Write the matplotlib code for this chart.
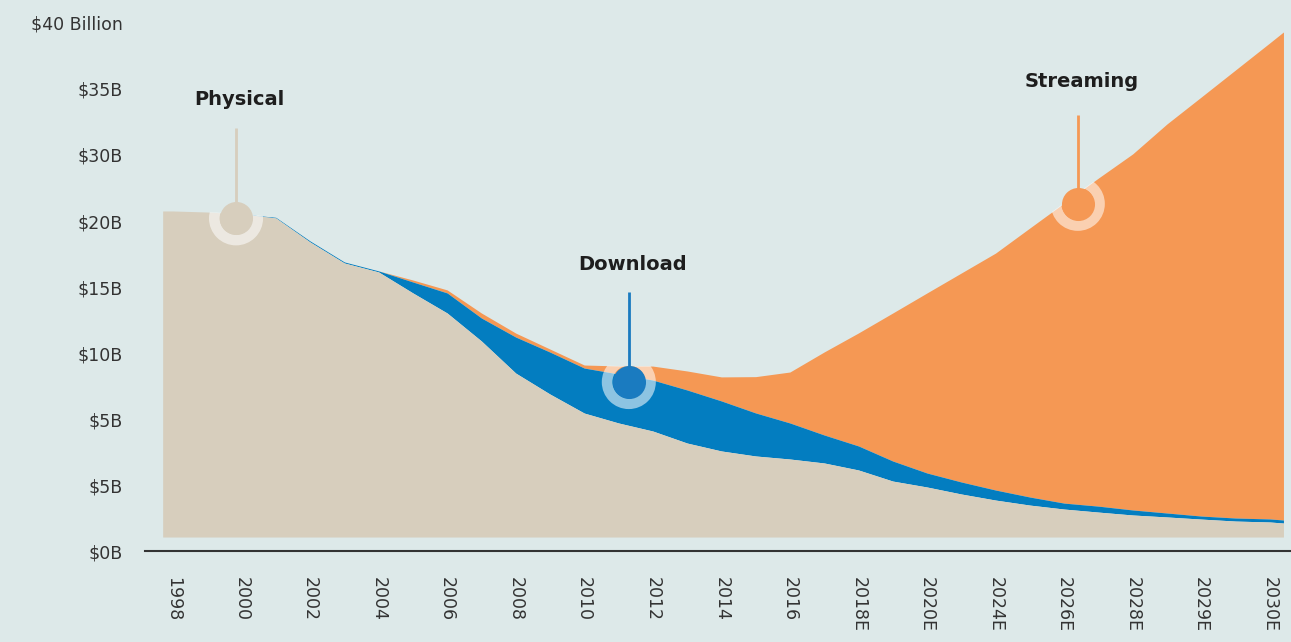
import numpy as np
import matplotlib.pyplot as plt

# x positions in tick units (0 = 1998 label, one unit per label)
xpos = [-0.15, 0, 0.5, 1, 1.5, 2, 2.5, 3, 3.5, 4, 4.5, 5, 5.5, 6, 6.5, 7, 7.5, 8,
        8.5, 9, 9.5, 10, 10.5, 11, 11.5, 12, 12.5, 13, 13.5, 14, 14.5, 15, 15.5, 16, 16.2]
physical = [25.76, 25.76, 25.68, 25.53, 25.23, 23.41, 21.82, 21.14, 19.55, 18.03, 15.91,
            13.48, 11.89, 10.45, 9.70, 9.09, 8.18, 7.58, 7.20, 6.97, 6.67, 6.14, 5.30,
            4.85, 4.32, 3.86, 3.48, 3.18, 2.95, 2.73, 2.58, 2.42, 2.27, 2.20, 2.12]
download = [0, 0, 0, 0, 0.05, 0.08, 0.08, 0.08, 0.83, 1.52, 1.74, 2.73, 3.18, 3.41, 3.71,
            3.86, 4.02, 3.79, 3.26, 2.73, 2.12, 1.82, 1.52, 1.06, 0.91, 0.76, 0.61, 0.45,
            0.45, 0.38, 0.30, 0.23, 0.23, 0.23, 0.23]
streaming = [0, 0, 0, 0, 0, 0, 0, 0, 0.15, 0.23, 0.38, 0.30, 0.23, 0.23, 0.61, 1.06, 1.44,
             1.82, 2.75, 3.86, 6.29, 8.56, 11.21, 13.64, 15.83, 17.95, 20.38, 22.73, 24.85,
             26.97, 29.47, 31.74, 33.94, 36.06, 36.97]
base = 1.06

year_labels = ['1998', '2000', '2002', '2004', '2006', '2008', '2010', '2012', '2014',
               '2016', '2018E', '2020E', '2024E', '2026E', '2028E', '2029E', '2030E']
ytick_vals = [0, 5, 10, 15, 20, 25, 30, 35, 40]
ytick_labels = ['$0B', '$5B', '$5B', '$10B', '$15B', '$20B', '$30B', '$35B', '$40 Billion']

bg = '#dde9e9'
c_phys = '#d7cebd'
c_dl = '#037dc0'
c_st = '#f59854'

plt.rcParams['font.family'] = ['DejaVu Sans']

x = np.array(xpos)
phys = np.array(physical)
dl_top = phys + np.array(download)
tot = dl_top + np.array(streaming)

fig = plt.figure(figsize=(12.91, 6.42), dpi=100, facecolor=bg)
ax = fig.add_axes([0.1123, 0.1417, 0.8877, 0.8225])
ax.set_facecolor(bg)

# invisible outline of the whole area, used to clip the marker rings
outline = ax.fill_between(x, base, tot, color='none', lw=0)
clip_path = outline.get_paths()[0]

ax.fill_between(x, dl_top, tot, color=c_st, lw=0)
ax.fill_between(x, phys, dl_top, color=c_dl, lw=0)
ax.fill_between(x, base, phys, color=c_phys, lw=0)

# markers: (x, y, line top, label y, label, colour)
markers = [(0.92, 25.2, 32.05, 34.2, 'Physical', c_phys),
           (6.65, 12.8, 19.6, 21.7, 'Download', '#1a7bc0'),
           (13.2, 26.3, 33.0, 35.6, 'Streaming', c_st)]
for mx, my, ltop, ly, txt, col in markers:
    ax.plot([mx, mx], [my, ltop], color=col, lw=2, solid_capstyle='butt', zorder=3)
    ring = ax.scatter([mx], [my], s=980, facecolors='none', edgecolors='white',
                      linewidths=7.6, alpha=0.55, zorder=4)
    ring.set_clip_path(clip_path, ax.transData)
    ax.scatter([mx], [my], s=566, color=col, lw=0, zorder=5)
    ax.text(mx + 0.05, ly, txt, ha='center', va='center', fontsize=14,
            fontweight='bold', color='#1e1e1e')

ax.set_xlim(-0.408, 16.31)
ax.set_ylim(0, 40)
ax.set_xticks(range(len(year_labels)))
ax.set_xticklabels(year_labels, rotation=270, fontsize=12.5, color='#333333')
ax.set_yticks(ytick_vals)
ax.set_yticklabels(ytick_labels, fontsize=12.5, color='#333333')
ax.tick_params(axis='both', length=0)
ax.tick_params(axis='x', pad=19)
ax.tick_params(axis='y', pad=16)
for s in ['top', 'right', 'left']:
    ax.spines[s].set_visible(False)
ax.spines['bottom'].set_color('#333333')
ax.spines['bottom'].set_linewidth(1.5)

plt.savefig('out.png', dpi=100, facecolor=bg)
